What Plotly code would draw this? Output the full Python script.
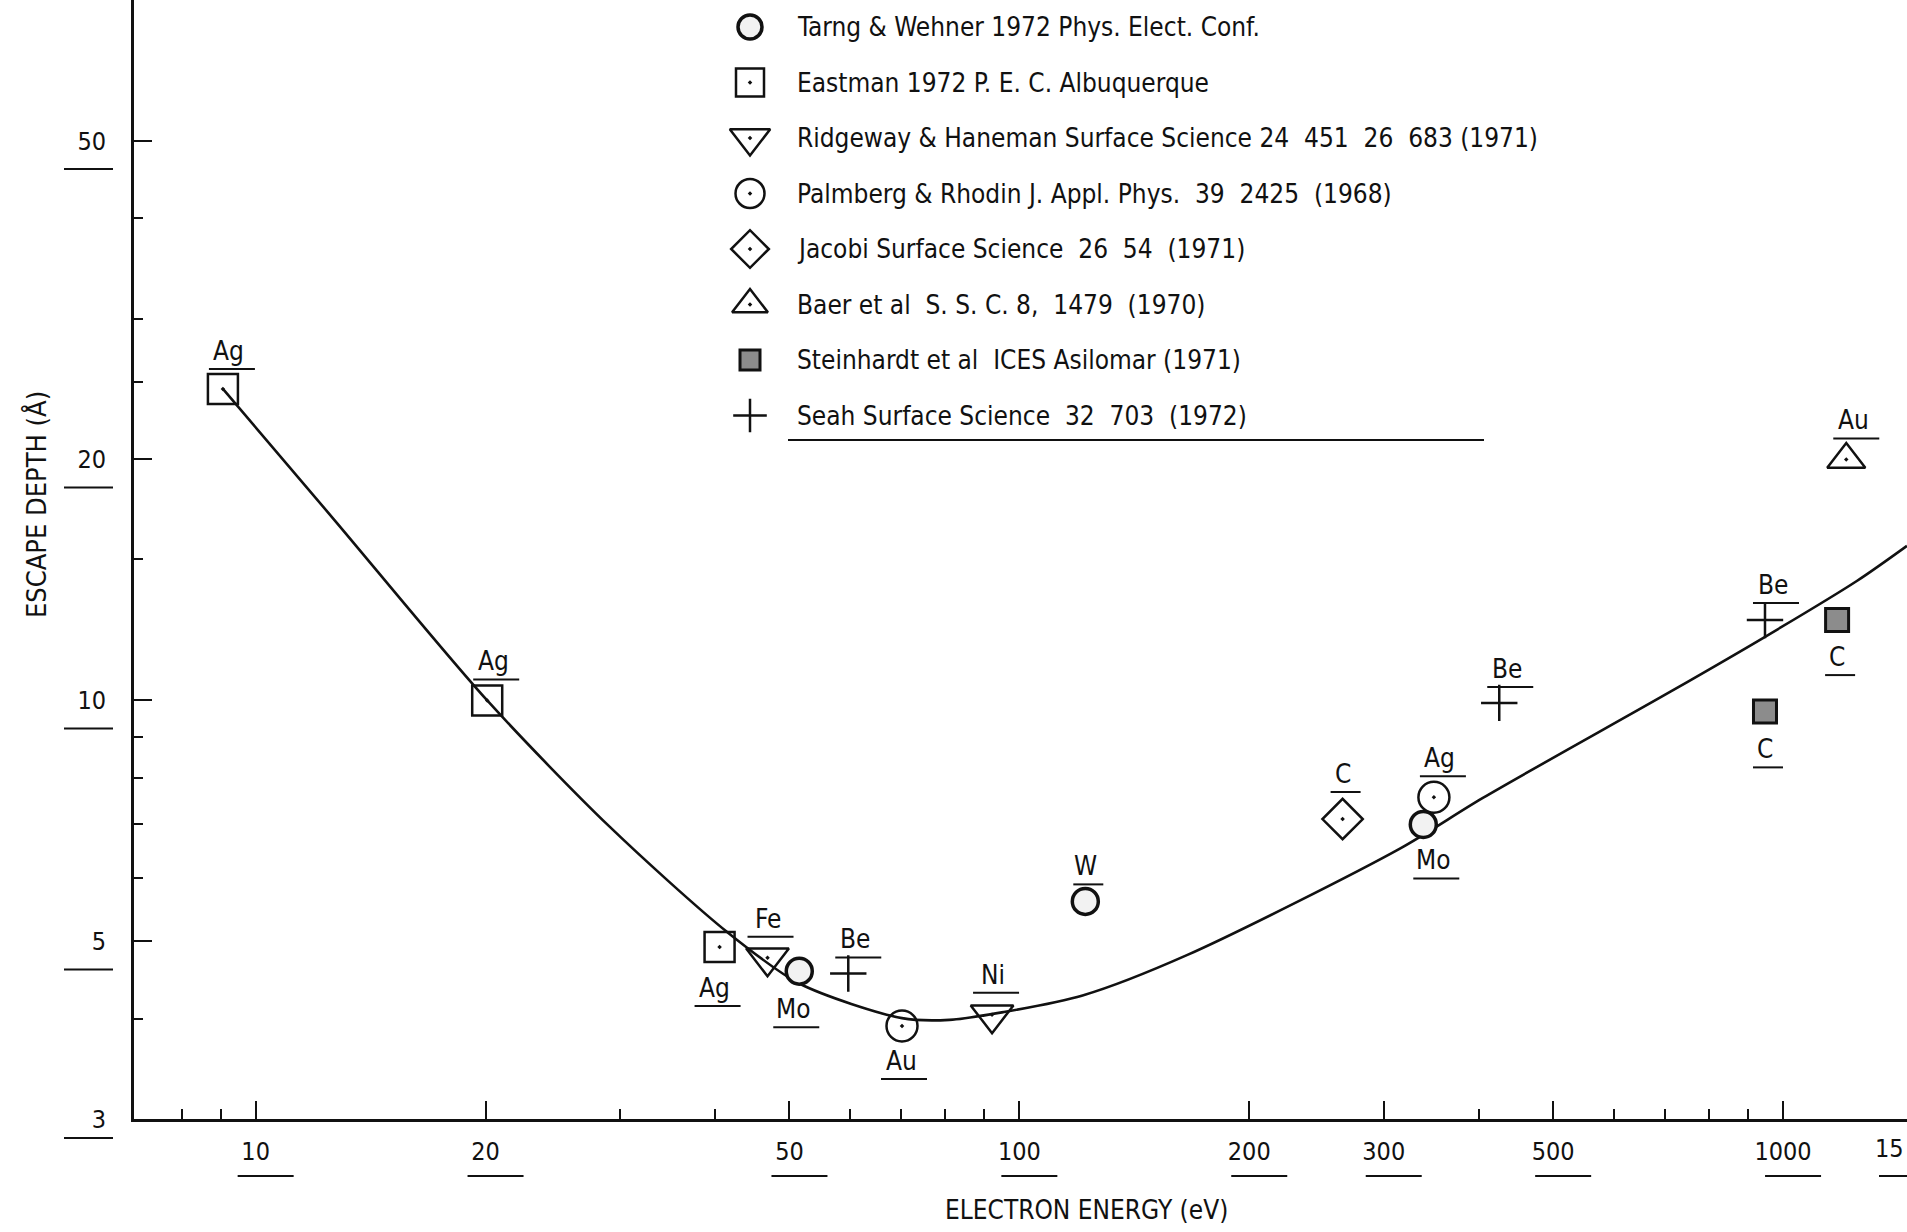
import numpy as np
import plotly.graph_objects as go

FONT = "Liberation Sans Narrow, DejaVu Sans Condensed, Arial Narrow, Liberation Sans, sans-serif"
INK = "#111111"

# ---- universal escape-depth curve ----
curve_energy = [9.06, 12.65, 20.1, 29.0, 41.4, 51.5, 70.2, 81, 95.3, 121,
                166, 315, 404, 714, 946, 1249, 1453]
curve_depth = [24.5, 16.85, 10.0, 6.97, 5.14, 4.43, 4.01, 3.99, 4.08, 4.28,
               4.81, 6.53, 7.55, 10.27, 12.0, 14.1, 15.6]

# ---- measurements by source ----
tarng_energy = [51.5, 122, 338]
tarng_depth = [4.59, 5.61, 7.0]
tarng_elem = ["Mo", "W", "Mo"]

eastman_energy = [9.06, 20.1, 40.5]
eastman_depth = [24.5, 10.0, 4.92]
eastman_elem = ["Ag", "Ag", "Ag"]

ridgeway_energy = [46.8, 92.1]
ridgeway_depth = [4.77, 4.05]
ridgeway_elem = ["Fe", "Ni"]

palmberg_energy = [70.2, 349]
palmberg_depth = [3.92, 7.57]
palmberg_elem = ["Au", "Ag"]

jacobi_energy = [265]
jacobi_depth = [7.11]
jacobi_elem = ["C"]

baer_energy = [1210]
baer_depth = [20.0]
baer_elem = ["Au"]

steinhardt_energy = [1177, 947]
steinhardt_depth = [12.6, 9.69]
steinhardt_elem = ["C", "C"]

seah_energy = [59.7, 425, 947]
seah_depth = [4.56, 9.93, 12.6]
seah_elem = ["Be", "Be", "Be"]

legend_text = [
    "Tarng & Wehner 1972 Phys. Elect. Conf.",
    "Eastman 1972 P. E. C. Albuquerque",
    "Ridgeway & Haneman Surface Science 24  451  26  683 (1971)",
    "Palmberg & Rhodin J. Appl. Phys.  39  2425  (1968)",
    "Jacobi Surface Science  26  54  (1971)",
    "Baer et al  S. S. C. 8,  1479  (1970)",
    "Steinhardt et al  ICES Asilomar (1971)",
    "Seah Surface Science  32  703  (1972)",
]

x_ticks = [10, 20, 50, 100, 200, 300, 500, 1000]
x_minor = [8, 9, 30, 40, 60, 70, 80, 90, 400, 600, 700, 800, 900]
y_ticks = [3, 5, 10, 20, 50]
y_minor = [4, 6, 7, 8, 9, 15, 25, 30, 40]

# ---- figure geometry ----
W, H = 1907, 1232
ML, MB = 134, 113
PW, PH = W - ML, H - MB
XR = [0.8407, 3.1623]
YR = [np.log10(3), 1.875]


def fx(v):
    """paper fraction of an energy value on the log x axis"""
    return (np.log10(v) - XR[0]) / (XR[1] - XR[0])


def fy(v):
    """paper fraction of a depth value on the log y axis"""
    return (np.log10(v) - YR[0]) / (YR[1] - YR[0])


def hline(xa, ya, x0, x1, dy, width=2):
    """short horizontal rule positioned in pixels around a paper anchor"""
    return dict(type="line", xref="paper", yref="paper",
                xsizemode="pixel", ysizemode="pixel",
                xanchor=xa, yanchor=ya, x0=x0, x1=x1, y0=dy, y1=dy,
                line=dict(color=INK, width=width))


# marker styles and label placement (dx, dy in px, +dy is downward)
sources = [
    dict(name="tarng", e=tarng_energy, d=tarng_depth, el=tarng_elem,
         symbol="circle", size=26, fill="#f2f2f2", lw=3.5,
         offs=[(-6, 38), (0, -35), (10, 36)]),
    dict(name="eastman", e=eastman_energy, d=eastman_depth, el=eastman_elem,
         symbol="square-open-dot", size=30, fill=INK, lw=2.5,
         offs=[(6, -38), (6, -39), (-5, 41)]),
    dict(name="ridgeway", e=ridgeway_energy, d=ridgeway_depth, el=ridgeway_elem,
         symbol="triangle-down-open-dot", size=37, fill=INK, lw=2.5,
         offs=[(0, -39), (1, -40)]),
    dict(name="palmberg", e=palmberg_energy, d=palmberg_depth, el=palmberg_elem,
         symbol="circle-open-dot", size=31, fill=INK, lw=2.5,
         offs=[(-1, 35), (6, -39)]),
    dict(name="jacobi", e=jacobi_energy, d=jacobi_depth, el=jacobi_elem,
         symbol="diamond-open-dot", size=31, fill=INK, lw=2.5,
         offs=[(0, -45)]),
    dict(name="baer", e=baer_energy, d=baer_depth, el=baer_elem,
         symbol="triangle-up-open-dot", size=33, fill=INK, lw=2.5,
         offs=[(7, -39)]),
    dict(name="steinhardt", e=steinhardt_energy, d=steinhardt_depth, el=steinhardt_elem,
         symbol="square", size=23, fill="#8c8c8c", lw=3,
         offs=[(0, 37), (0, 38)]),
    dict(name="seah", e=seah_energy, d=seah_depth, el=seah_elem,
         symbol="cross-thin-open", size=26, fill=INK, lw=2.5,
         offs=[(7, -34), (8, -34), (8, -35)]),
]

fig = go.Figure()

fig.add_trace(go.Scatter(
    x=curve_energy, y=curve_depth, mode="lines",
    line=dict(color=INK, width=2.6, shape="spline", smoothing=0.8),
    showlegend=False, hoverinfo="skip"))

annotations = []
shapes = []

for s in sources:
    fig.add_trace(go.Scatter(
        x=s["e"], y=s["d"], mode="markers", name=s["name"], showlegend=False,
        marker=dict(symbol=s["symbol"], size=s["size"], color=s["fill"],
                    line=dict(color=INK, width=s["lw"])),
        cliponaxis=False))
    for xe, yd, el, (dx, dy) in zip(s["e"], s["d"], s["el"], s["offs"]):
        annotations.append(dict(
            x=np.log10(xe), y=np.log10(yd), xref="x", yref="y", text=el,
            showarrow=False, xshift=dx, yshift=-dy,
            font=dict(family=FONT, size=26, color=INK)))
        half = 7 + 8 * len(el)
        shapes.append(hline(fx(xe), fy(yd), dx - half + 3, dx + half + 3, -(dy + 18)))

# ---- key drawn in pixel space on an overlay axis pair ----
LEG_X, LEG_TEXT_X, LEG_TOP, LEG_STEP = 750, 795, 27, 55.5
for i, (s, txt) in enumerate(zip(sources, legend_text)):
    row_y = LEG_TOP + i * LEG_STEP
    fig.add_trace(go.Scatter(
        x=[LEG_X], y=[row_y], xaxis="x2", yaxis="y2", mode="markers",
        showlegend=False, hoverinfo="skip", cliponaxis=False,
        marker=dict(symbol=s["symbol"], size=s["size"] - 2 if s["name"] != "steinhardt" else 20,
                    color=s["fill"], line=dict(color=INK, width=s["lw"]))))
    annotations.append(dict(
        x=LEG_TEXT_X, y=row_y, xref="x2", yref="y2", text=txt, showarrow=False,
        xanchor="left", yanchor="middle",
        font=dict(family=FONT, size=26, color=INK)))

# rule under the last reference
shapes.append(dict(type="line", xref="x2", yref="y2", x0=788, x1=1484, y0=440, y1=440,
                   line=dict(color=INK, width=2)))

# ---- tick-label underlines ----
for v in x_ticks:
    shapes.append(hline(fx(v), 0, -18, 38, -57))
for v in y_ticks:
    shapes.append(hline(0, fy(v), -70, -21, -28 if v != 3 else -19))

# partly visible 1500 label at the right edge
annotations.append(dict(x=1.0, y=0, xref="paper", yref="paper",
                        text="15", showarrow=False, xanchor="right", yanchor="top",
                        xshift=-1, yshift=-13, font=dict(family=FONT, size=25, color=INK)))
shapes.append(hline(1.0, 0, -28, 0, -57))

# axis titles
annotations.append(dict(x=(1086 - ML) / PW, y=0, xref="paper", yref="paper",
                        text="ELECTRON ENERGY (eV)", showarrow=False, yanchor="middle",
                        yshift=-91, font=dict(family=FONT, size=26, color=INK)))
annotations.append(dict(x=0, y=1 - 505 / PH, xref="paper", yref="paper",
                        text="ESCAPE DEPTH (Å)", showarrow=False, textangle=-90,
                        xanchor="center", xshift=-(ML - 36),
                        font=dict(family=FONT, size=27, color=INK)))

axis_common = dict(type="log", showgrid=False, zeroline=False, showline=True,
                   linecolor=INK, linewidth=3, ticks="inside", ticklen=18,
                   tickwidth=2, tickcolor=INK,
                   tickfont=dict(family=FONT, size=25, color=INK))

fig.update_layout(
    width=W, height=H, margin=dict(l=ML, r=0, t=0, b=MB, pad=0),
    paper_bgcolor="white", plot_bgcolor="white",
    font=dict(family=FONT, color=INK),
    xaxis=dict(axis_common, range=XR, tickvals=x_ticks,
               ticktext=[str(v) for v in x_ticks], ticklabelstandoff=8,
               minor=dict(tickvals=x_minor, ticks="inside", ticklen=10,
                          tickwidth=2, tickcolor=INK, showgrid=False)),
    yaxis=dict(axis_common, range=YR, tickvals=y_ticks,
               ticktext=[str(v) for v in y_ticks], ticklabelstandoff=20,
               minor=dict(tickvals=y_minor, ticks="inside", ticklen=9,
                          tickwidth=2, tickcolor=INK, showgrid=False)),
    xaxis2=dict(overlaying="x", range=[ML, W], visible=False, anchor="y2"),
    yaxis2=dict(overlaying="y", range=[PH, 0], visible=False, anchor="x2"),
    annotations=annotations,
    shapes=shapes,
    showlegend=False,
)

fig.write_html("out.html")
